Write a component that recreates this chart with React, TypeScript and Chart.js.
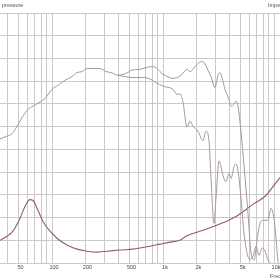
import React, { useEffect, useRef } from "react";
import { Chart, registerables } from "chart.js";

Chart.register(...registerables);

// Sound pressure, curve A (upper / on-axis), Hz and dB
const splAFreq = [34, 39.3, 43.6, 48.4, 54.8, 60.8, 67.4, 78, 86.5, 100, 113, 131, 151, 168, 186, 207, 234, 271, 307, 340, 393, 436, 484, 515, 620, 703, 780, 865, 940, 1000, 1109, 1205, 1337, 1483, 1645, 1750, 1942, 2199, 2341, 2543, 2707, 2940, 3128, 3262, 3400, 3619, 3932, 4100, 4363, 4549, 4743, 5045, 5370, 5831, 6207, 6604, 7179, 7642, 8131, 8827, 9387, 9992, 10418, 10862, 11325];
const splADb = [77.3, 77.9, 78.4, 80.1, 82.3, 83.8, 84.5, 85.4, 86.2, 88.2, 89.1, 90.2, 91.0, 91.9, 92.1, 92.8, 92.8, 92.8, 92.1, 91.9, 91.3, 91.5, 91.9, 92.4, 92.6, 93.0, 93.2, 93.0, 92.1, 91.5, 91.0, 90.6, 90.8, 91.5, 92.6, 92.1, 93.2, 94.3, 94.1, 92.4, 91.0, 88.6, 91.3, 91.9, 90.8, 88.2, 86.0, 84.5, 84.9, 85.6, 84.5, 78.8, 71.4, 60.9, 52.2, 50.7, 56.6, 59.2, 59.4, 59.4, 62.0, 59.8, 55.5, 50.4, 48.5];

// Sound pressure, curve B (lower / off-axis)
const splBFreq = [393, 455, 537, 660, 780, 865, 1000, 1230, 1337, 1423, 1514, 1645, 1750, 1862, 2066, 2293, 2440, 2597, 2707, 2880, 3001, 3195, 3471, 3694, 3932, 4100, 4363, 4549, 4743, 5045, 5370, 5712, 6080, 6469, 6886, 7330, 7801, 8301, 8827, 9387, 9992];
const splBDb = [91.3, 91.0, 90.8, 90.8, 90.4, 89.7, 88.9, 88.2, 87.1, 87.2, 85.4, 79.9, 81.2, 80.1, 79.0, 76.9, 79.0, 76.9, 68.6, 58.7, 64.2, 72.5, 69.2, 67.9, 69.7, 68.6, 71.2, 71.8, 70.3, 64.2, 56.6, 52.2, 50.7, 51.5, 53.7, 51.7, 53.3, 52.6, 50.7, 49.8, 48.9];

// Impedance
const impFreq = [34, 39.3, 44.5, 51.5, 57.1, 63.4, 67.4, 74.8, 83, 96, 111, 136.5, 168, 207, 254, 313, 410, 537, 620, 764, 940, 1156, 1423, 1611, 2293, 3195, 4549, 6469, 8473, 9786, 11325];
const impOhm = [10.0, 11.8, 14.0, 19.7, 24.9, 27.9, 27.5, 23.1, 18.3, 14.0, 10.9, 7.9, 6.1, 5.2, 4.8, 5.2, 5.7, 6.1, 6.6, 7.4, 8.3, 9.2, 10.0, 11.8, 14.4, 17.0, 20.5, 25.8, 29.7, 33.6, 37.6];

// Axes
const gridFreqs = [40, 50, 60, 70, 80, 90, 100, 200, 300, 400, 500, 600, 700, 800, 900, 1000, 2000, 3000, 4000, 5000, 6000, 7000, 8000, 9000, 10000];
const labelFreqs = [50, 100, 200, 500, 1000, 2000, 5000, 10000];
const labelTexts = ["50", "100", "200", "500", "1k", "2k", "5k", "10k"];
const X_MIN = 34;
const X_MAX = 11325;
const DB_MIN = 50;
const DB_MAX = 105;
const DB_STEP = 5;
const IMP_MIN = 0;
const IMP_MAX = 110;

const TITLE_LEFT = "pressure";
const TITLE_RIGHT = "Impedance";
const X_TITLE = "Frequency";

const FONT = '"Liberation Sans", Arial, sans-serif';

const toPoints = (xs: number[], ys: number[]) => xs.map((x, i) => ({ x, y: ys[i] }));

export default function App() {
  const ref = useRef<HTMLCanvasElement>(null);

  useEffect(() => {
    if (!ref.current) return;
    const textPlugin = {
      id: "cornerTexts",
      afterDraw(chart: any) {
        const ctx = chart.ctx;
        ctx.save();
        ctx.font = `5.5px ${FONT}`;
        ctx.fillStyle = "#555";
        ctx.textBaseline = "middle";
        ctx.textAlign = "left";
        ctx.fillText(TITLE_LEFT, 2, 5.5);
        ctx.fillText(TITLE_RIGHT, 268, 5.5);
        ctx.fillText(X_TITLE, 270, 276);
        ctx.restore();
      },
    };

    const chart = new Chart(ref.current, {
      type: "line",
      data: {
        datasets: [
          {
            label: "SPL A",
            data: toPoints(splAFreq, splADb),
            borderColor: "#aa9696",
            borderWidth: 1,
            pointRadius: 0,
            cubicInterpolationMode: "monotone",
            yAxisID: "y",
          },
          {
            label: "SPL B",
            data: toPoints(splBFreq, splBDb),
            borderColor: "#aa9696",
            borderWidth: 1,
            pointRadius: 0,
            cubicInterpolationMode: "monotone",
            yAxisID: "y",
          },
          {
            label: "Impedance",
            data: toPoints(impFreq, impOhm),
            borderColor: "#935f5f",
            borderWidth: 1.1,
            pointRadius: 0,
            cubicInterpolationMode: "monotone",
            yAxisID: "imp",
          },
        ],
      },
      options: {
        responsive: false,
        animation: false,
        layout: { padding: { top: 13, bottom: 7.4, left: 0, right: 0 } },
        plugins: { legend: { display: false }, tooltip: { enabled: false } },
        scales: {
          x: {
            type: "logarithmic",
            min: X_MIN,
            max: X_MAX,
            afterBuildTicks: (axis: any) => {
              axis.ticks = gridFreqs.map((v) => ({ value: v }));
            },
            ticks: {
              autoSkip: false,
              maxRotation: 0,
              padding: 1.5,
              labelOffset: 2,
              color: "#444",
              font: { size: 5.5, family: FONT },
              callback: (v: any) => {
                const i = labelFreqs.indexOf(Number(v));
                return i >= 0 ? labelTexts[i] : "";
              },
            },
            grid: { color: "#c9c9c9", lineWidth: 1, drawTicks: false },
            border: { display: false },
          },
          y: {
            type: "linear",
            min: DB_MIN,
            max: DB_MAX,
            ticks: { display: false, stepSize: DB_STEP },
            grid: { color: "#c9c9c9", lineWidth: 1, drawTicks: false },
            border: { display: false },
          },
          imp: {
            type: "linear",
            position: "right",
            min: IMP_MIN,
            max: IMP_MAX,
            display: false,
          },
        },
      },
      plugins: [textPlugin],
    });
    return () => chart.destroy();
  }, []);

  return (
    <div style={{ position: "fixed", left: 0, top: 0, width: 280, height: 280, background: "#fff" }}>
      <canvas ref={ref} width={280} height={280} style={{ display: "block" }} />
    </div>
  );
}
